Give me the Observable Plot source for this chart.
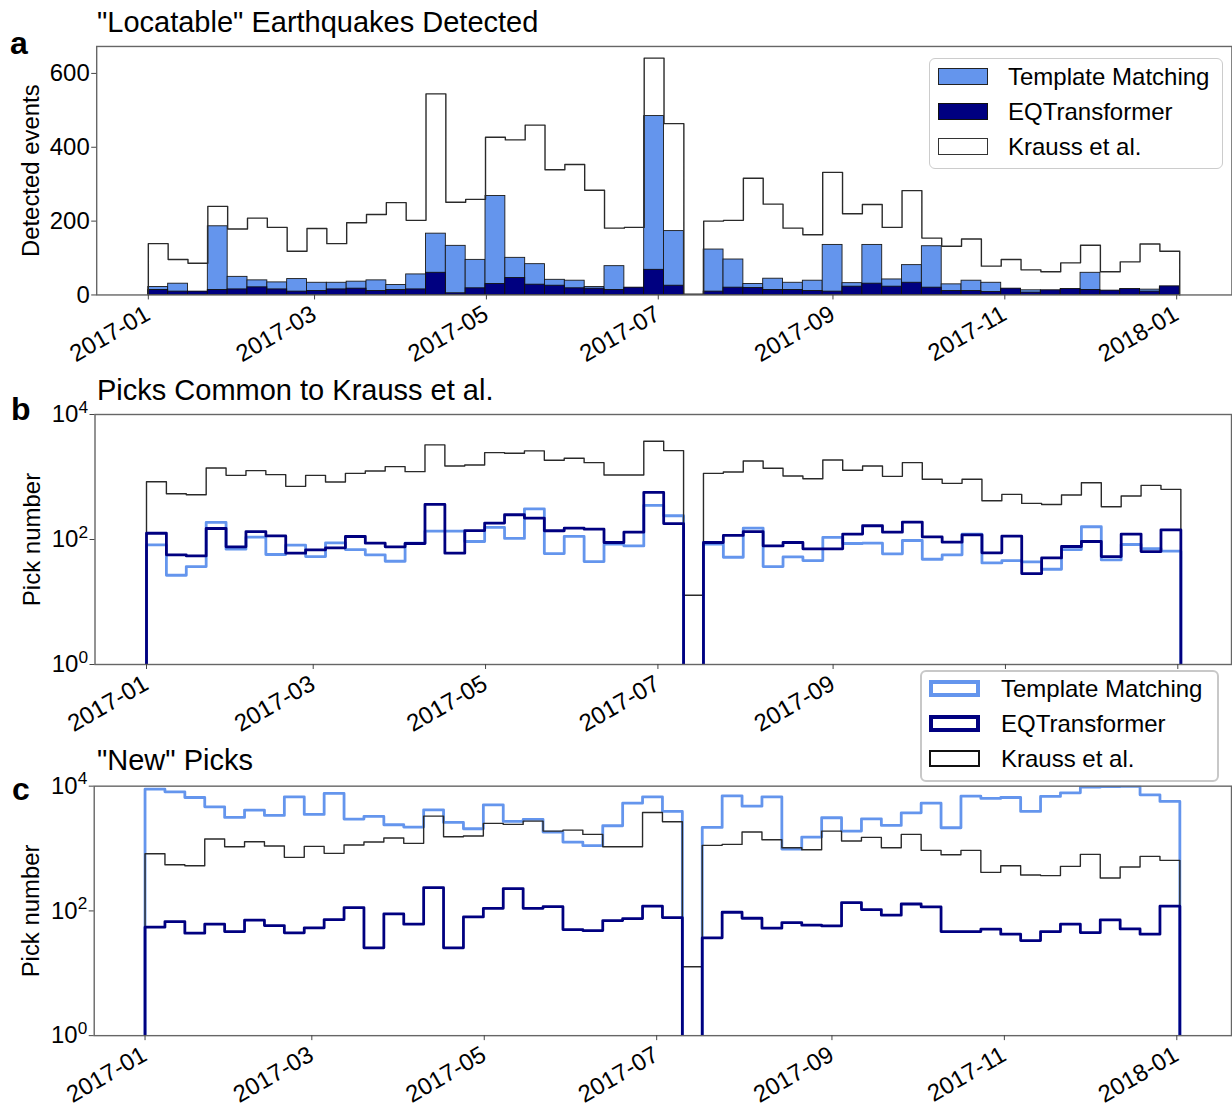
<!DOCTYPE html>
<html><head><meta charset="utf-8">
<script src="https://cdn.jsdelivr.net/npm/d3@7"></script>
<script src="https://cdn.jsdelivr.net/npm/@observablehq/plot@0.6"></script>
<style>
html,body{margin:0;padding:0;background:#fff;overflow:hidden;}
#root{position:relative;width:1232px;height:1108px;overflow:hidden;font-family:"Liberation Sans",Arial,sans-serif;color:#000;}
.panel{position:absolute;left:0;overflow:visible;}
.title{position:absolute;font-size:29px;line-height:29px;white-space:nowrap;}
.letter{position:absolute;font-size:32px;line-height:32px;font-weight:bold;}
.legend{position:absolute;background:#fff;box-sizing:border-box;}
.item{position:absolute;font-size:24px;line-height:24px;white-space:nowrap;}
.patch{position:absolute;box-sizing:border-box;}
</style></head><body><div id="root"></div>
<script>
// ---------- data (weekly bins, 52 bins starting 2017-01-01) ----------
const binStartLabel = "2017-01-01";
const binDays = 7.04;
const seriesNames = ["Template Matching", "EQTransformer", "Krauss et al."];
const xTickLabels = ["2017-01", "2017-03", "2017-05", "2017-07", "2017-09", "2017-11", "2018-01"];
const yTicksA = [0, 200, 400, 600];
const yTicksLog = [1, 100, 10000];

// panel a: "Locatable" earthquakes detected
const aTM = [21.5, 30.5, 8, 186, 49, 39.5, 34, 43, 33, 33, 36, 39.5, 27, 55.6, 166, 133, 95, 268, 100.5, 83.4, 41, 38.6, 21.5, 78, 18, 484.5, 173, 0, 123, 96, 29.6, 44, 33, 38.6, 135.5, 32, 135.5, 42, 80.8, 132, 28.7, 38.6, 33, 15, 12.6, 10, 14, 60, 10, 14, 14.4, 20];
const aEQT = [13.5, 9, 9, 13.5, 15, 20.6, 15, 9, 10.8, 15, 17, 10.8, 13.5, 15, 60, 4.5, 18, 29.6, 45.8, 27.8, 25, 18, 17, 13.5, 19.7, 68, 25, 0, 9, 19.7, 18.8, 13.5, 13.5, 10.8, 9, 22.4, 30.5, 22.4, 33, 19.7, 10.8, 10.8, 8, 17, 6.3, 12.6, 16, 13.5, 11.7, 16, 9, 23.3];
const aK = [139, 96, 86, 240, 178.5, 208, 183, 118.4, 180, 139, 195.6, 218, 250, 202, 544.6, 251, 259, 427, 420, 460, 339, 353.5, 283.5, 181, 183, 641.5, 464, 2, 200, 202, 316, 246, 181, 163, 332, 220, 245, 183, 282.6, 154, 132, 151.6, 78, 96, 68, 62.8, 87, 134.6, 62.8, 89.7, 138, 118.4];

// panel b: picks common to Krauss et al.
const bTM = [82, 26.8, 36.9, 187.5, 70, 109, 57.5, 81, 53.4, 88.5, 69, 56.8, 44.9, 87.4, 136, 136, 92.9, 156, 104, 310, 59.6, 112, 44.4, 84.2, 79, 351, 240, 0, 84.2, 52, 152, 36.9, 52.7, 46, 108, 86.3, 87.4, 58.9, 96.4, 48.3, 56.8, 122, 42.2, 46, 43.8, 33.4, 69, 160, 47.2, 83.2, 71.7, 65];
const bEQT = [126, 56.8, 54.7, 150, 76.3, 134, 114, 60.4, 68.3, 73.5, 111.7, 87.4, 76.3, 86.3, 364, 60.4, 139, 183, 249, 220, 138, 152, 146.5, 89.5, 131, 567, 180, 0, 89.5, 116, 134, 79, 89.5, 70.8, 70.8, 122, 166, 131, 190, 110, 90.6, 119, 61.1, 113, 28.5, 50.8, 77.2, 92.9, 53.4, 122, 64.2, 143];
const bK = [841, 540, 521, 1394, 1063, 1264, 1090, 708, 1063, 831, 1145, 1248, 1466, 1218, 3261, 1501, 1558, 2456, 2398, 2614, 1850, 1992, 1698, 1077, 1077, 3733, 2645, 12.8, 1145, 1203, 1806, 1377, 1038, 940, 1875, 1279, 1501, 1025, 1698, 918, 791, 918, 417, 527, 378, 364, 514, 811, 334, 496, 735, 634];

// panel c: "new" picks
const cTM = [8954, 8117, 6586, 4670, 3154, 4130, 3395, 6750, 3521, 7636, 2965, 3273, 2405, 2208, 4180, 2623, 2076, 5027, 2722, 2929, 1837, 1271, 1110, 2318, 5346, 6750, 3935, 0, 2182, 7003, 4786, 6750, 982, 1528, 3114, 1905, 3000, 2349, 3744, 5346, 2154, 6918, 6350, 6586, 3935, 6834, 7820, 9640, 9800, 9900, 7265, 5686];
const cEQT = [54.8, 67.5, 43.9, 61.2, 46.7, 70.9, 58.3, 44.5, 53.5, 72.6, 113, 25.6, 89.5, 61.2, 236, 25.6, 80.2, 110, 228, 110, 117, 50.3, 48.4, 70, 75.4, 119, 78.2, 0, 37, 95.2, 76.3, 52.8, 65.1, 59, 57.5, 136, 105, 85.3, 129, 116, 46.7, 46.7, 50.9, 42.3, 33.5, 46.7, 61.2, 45, 71.8, 51.5, 42.3, 119];
const cK = [827, 551, 531, 1419, 1070, 1286, 1096, 722, 1083, 837, 1137, 1271, 1472, 1210, 3311, 1546, 1585, 2528, 2436, 2754, 1905, 1977, 1686, 1070, 1070, 3790, 2687, 12.7, 1124, 1166, 1837, 1384, 1032, 958, 1905, 1318, 1509, 1032, 1686, 935, 797, 935, 415, 531, 377, 368, 518, 807, 337, 506, 749, 647];

// ---------- helpers ----------
const COL_TM = "#6495ED", COL_EQT = "#000080", COL_K = "#2a2a2a";
const DAY = 86400000;
const t0 = Date.parse(binStartLabel + "T00:00:00Z");
const nBins = aK.length;
const edges = d3.range(nBins + 1).map(i => new Date(t0 + i * binDays * DAY));
const xTickDates = xTickLabels.map(s => new Date(s + "-01T00:00:00Z"));
const FONT = '"Liberation Sans", Arial, sans-serif';

// histogram step outline; values at or below "floor" drop below the frame (clipped), like matplotlib's log axis
function stepPoints(vals, floor, dropTo) {
  const lv = v => (v <= floor ? dropTo : v);
  const pts = [{x: edges[0], y: dropTo}];
  vals.forEach((v, i) => pts.push({x: edges[i], y: lv(v)}));
  pts.push({x: edges[nBins], y: lv(vals[nBins - 1])});
  pts.push({x: edges[nBins], y: dropTo});
  return pts;
}
function barRows(vals) { return vals.map((v, i) => ({x1: edges[i], x2: edges[i + 1], y: v})); }

function xDomain(leftPx, jan1Px, rightPx, pxPerDay) {
  return [new Date(t0 - (jan1Px - leftPx) / pxPerDay * DAY), new Date(t0 + (rightPx - jan1Px) / pxPerDay * DAY)];
}

function xAxes() {
  return [
    Plot.axisX({ticks: xTickDates, tickFormat: () => "", tickSize: 5, stroke: "#444", label: null}),
    Plot.axisX({ticks: xTickDates, tickFormat: d3.utcFormat("%Y-%m"), tickSize: 0, tickPadding: 9,
      tickRotate: -30, textAnchor: "end", lineAnchor: "top", dx: -5, fontSize: 24, label: null})
  ];
}

const root = document.getElementById("root");
function place(svg, top) { svg.classList.add("panel"); svg.style.top = top + "px"; root.appendChild(svg); }

// ---------- panel a ----------
{
  const L = 96.5, R = 1235.4, width = 1236;
  const svg = Plot.plot({
    width, height: 332, marginLeft: L, marginRight: width - R, marginTop: 10, marginBottom: 72.7,
    style: {fontFamily: FONT, fontSize: "24px", background: "transparent", overflow: "visible"},
    x: {type: "utc", domain: xDomain(L, 148.3, R, 2.8266)},
    y: {type: "linear", domain: [0, 673]},
    marks: [
      Plot.rectY(barRows(aTM), {x1: "x1", x2: "x2", y: "y", fill: COL_TM, stroke: "#1a1a1a", strokeWidth: 0.9}),
      Plot.rectY(barRows(aEQT), {x1: "x1", x2: "x2", y: "y", fill: COL_EQT, stroke: "#111", strokeWidth: 0.9}),
      Plot.line(stepPoints(aK, -1, 0), {x: "x", y: "y", curve: "step-after", stroke: COL_K, strokeWidth: 1.4}),
      Plot.frame({stroke: "#666", strokeWidth: 1.4}),
      Plot.axisY({ticks: yTicksA, tickSize: 5, tickPadding: 2, fontSize: 24, stroke: "#444",
        label: "Detected events", labelAnchor: "center", labelOffset: 75, labelArrow: "none"}),
      ...xAxes()
    ]
  });
  place(svg, 36);
}

// ---------- log panels ----------
function logPanel({tm, eqt, k, top, L, R, width, jan1, ppd, labelOffset, marginTop, height, marginBottom}) {
  const svg = Plot.plot({
    width, height, marginLeft: L, marginRight: width - R, marginTop, marginBottom,
    style: {fontFamily: FONT, fontSize: "24px", background: "transparent", overflow: "visible"},
    x: {type: "utc", domain: xDomain(L, jan1, R, ppd)},
    y: {type: "log", domain: [1, 10000]},
    marks: [
      Plot.line(stepPoints(tm, 0, 0.3), {x: "x", y: "y", curve: "step-after", stroke: COL_TM, strokeWidth: 2.8, clip: true}),
      Plot.line(stepPoints(k, 0, 0.3), {x: "x", y: "y", curve: "step-after", stroke: COL_K, strokeWidth: 1.4, clip: true}),
      Plot.line(stepPoints(eqt, 0, 0.3), {x: "x", y: "y", curve: "step-after", stroke: COL_EQT, strokeWidth: 2.8, clip: true}),
      Plot.frame({stroke: "#666", strokeWidth: 1.4}),
      Plot.axisY({ticks: yTicksLog, tickFormat: d => "10^" + Math.round(Math.log10(d)), tickSize: 5, tickPadding: 2,
        fontSize: 24, stroke: "#444", label: "Pick number", labelAnchor: "center", labelOffset, labelArrow: "none"}),
      ...xAxes()
    ]
  });
  // superscript exponents
  d3.select(svg).selectAll("text").each(function () {
    const t = this.textContent;
    const m = /^10\^(\d)$/.exec(t);
    if (m) {
      const s = d3.select(this);
      s.text("10");
      s.append("tspan").attr("dy", "-0.55em").attr("font-size", "0.72em").text(m[1]);
    }
  });
  place(svg, top);
}

logPanel({tm: bTM, eqt: bEQT, k: bK, top: 404, L: 94.5, R: 1231, width: 1232, jan1: 146, ppd: 2.8255,
  labelOffset: 72, marginTop: 10, height: 332, marginBottom: 72});
logPanel({tm: cTM, eqt: cEQT, k: cK, top: 776, L: 94, R: 1235, width: 1236, jan1: 145, ppd: 2.836,
  labelOffset: 72.3, marginTop: 9.7, height: 330, marginBottom: 70});

// ---------- titles & panel letters ----------
function addDiv(cls, text, left, top, extra) {
  const d = document.createElement("div");
  d.className = cls; d.textContent = text;
  d.style.left = left + "px"; d.style.top = top + "px";
  if (extra) Object.assign(d.style, extra);
  root.appendChild(d); return d;
}
addDiv("title", "\"Locatable\" Earthquakes Detected", 97, 7.5);
addDiv("title", "Picks Common to Krauss et al.", 97, 375.5);
addDiv("title", "\"New\" Picks", 97, 746);
addDiv("letter", "a", 10, 27);
addDiv("letter", "b", 11, 393);
addDiv("letter", "c", 12, 773);

// ---------- legends ----------
function legend({left, top, width, height, border, patches, textLeft, patchLeft, patchW, rowTops}) {
  const box = addDiv("legend", "", left, top, {width: width + "px", height: height + "px", border, borderRadius: "6px"});
  seriesNames.forEach((name, i) => {
    const p = document.createElement("div");
    p.className = "patch";
    Object.assign(p.style, {left: patchLeft + "px", top: rowTops[i] + "px", width: patchW + "px", height: "17px"}, patches[i]);
    box.appendChild(p);
    const t = document.createElement("div");
    t.className = "item"; t.textContent = name;
    t.style.left = textLeft + "px"; t.style.top = (rowTops[i] + 8.5 - 11.7) + "px";
    box.appendChild(t);
  });
}
legend({left: 929, top: 58, width: 294, height: 111, border: "1.3px solid #cccccc",
  patchLeft: 8, patchW: 50, textLeft: 78, rowTops: [9, 44.3, 79.3],
  patches: [
    {background: COL_TM, border: "1.3px solid #222"},
    {background: COL_EQT, border: "1.3px solid #111"},
    {background: "#fff", border: "1.3px solid #333"}
  ]});
legend({left: 920, top: 670, width: 299, height: 112, border: "2.5px solid #c8c8c8",
  patchLeft: 7, patchW: 51, textLeft: 79, rowTops: [8, 43, 78],
  patches: [
    {background: "#fff", border: "4px solid " + COL_TM},
    {background: "#fff", border: "4px solid " + COL_EQT},
    {background: "#fff", border: "2.5px solid #111"}
  ]});
</script></body></html>
